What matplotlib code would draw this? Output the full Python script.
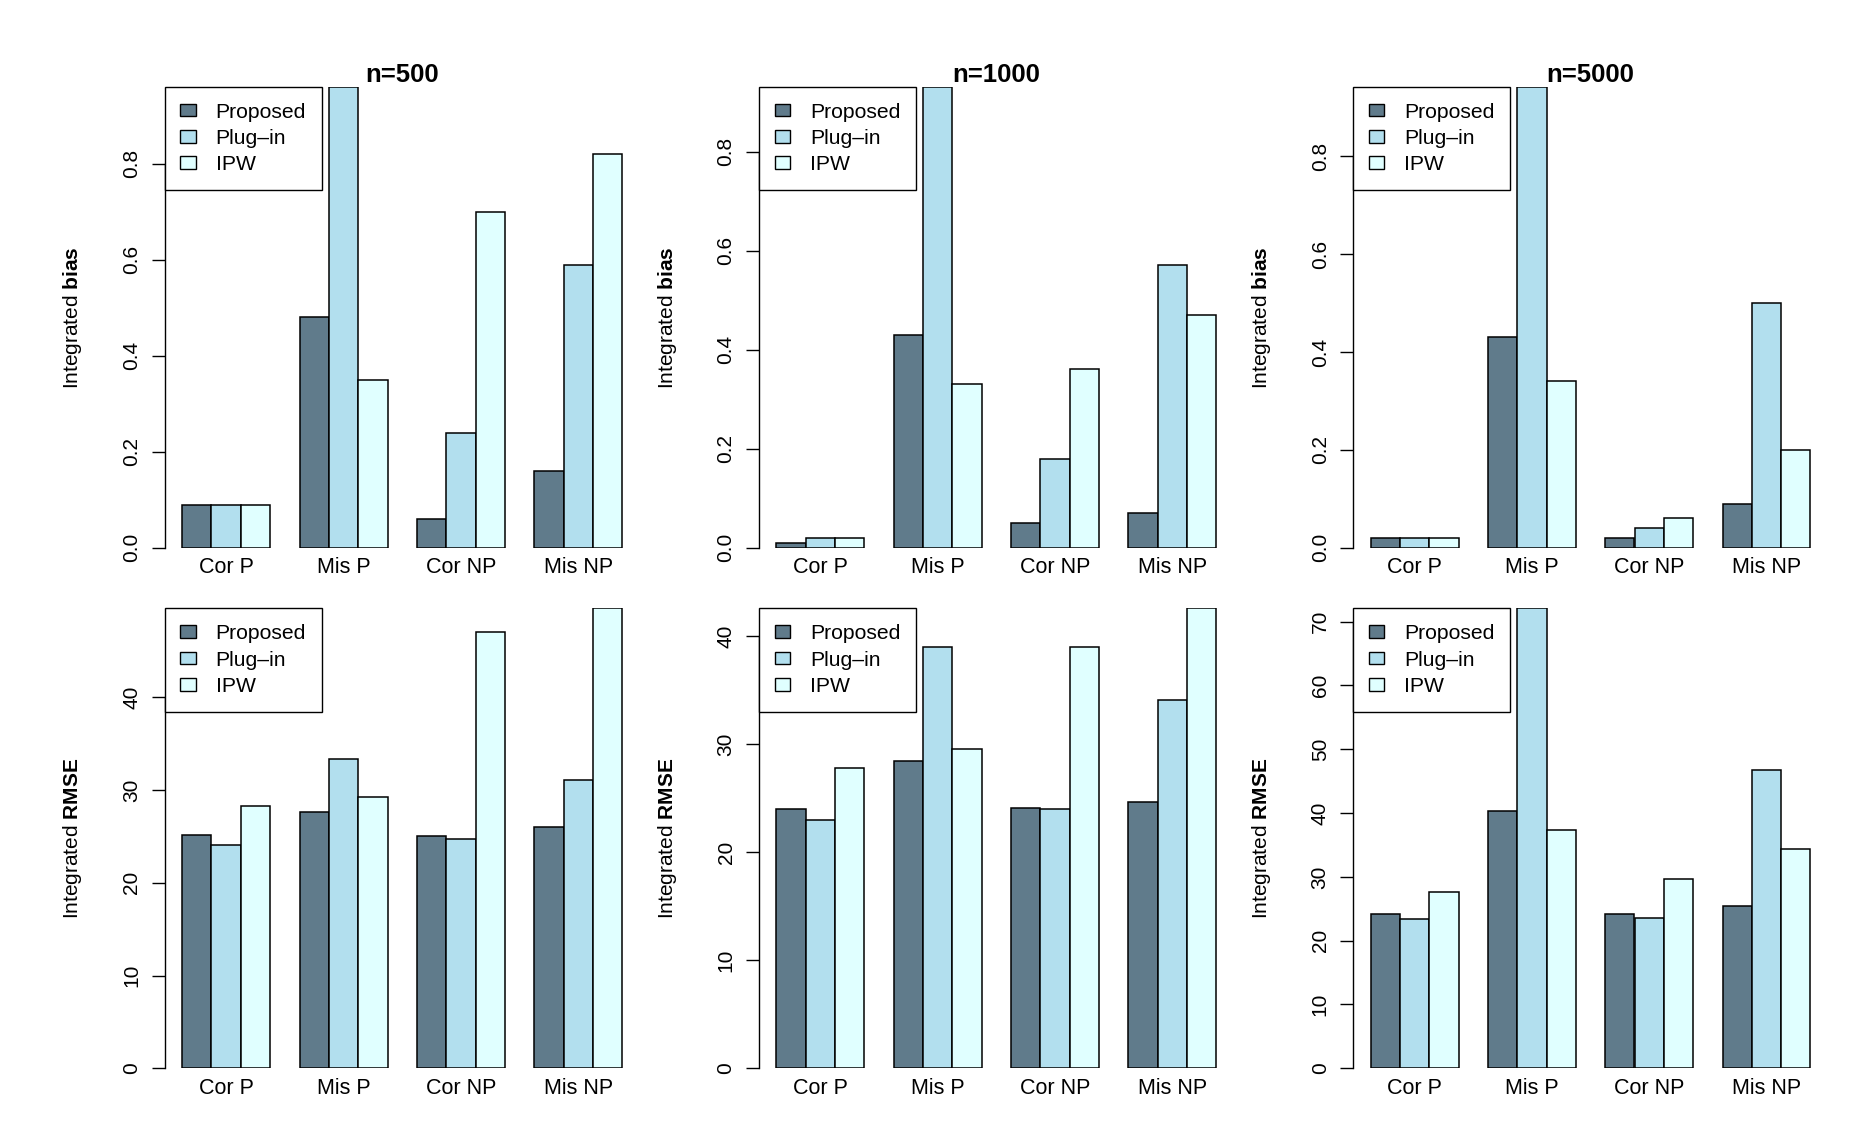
import matplotlib
matplotlib.use("Agg")
import matplotlib.pyplot as plt
from matplotlib.patches import Patch
import numpy as np

plt.rcParams['font.family'] = ['Liberation Sans', 'DejaVu Sans']
plt.rcParams['mathtext.fontset'] = 'custom'
plt.rcParams['mathtext.rm'] = 'Liberation Sans'
plt.rcParams['mathtext.bf'] = 'Liberation Sans:bold'

categories = ["Cor P", "Mis P", "Cor NP", "Mis NP"]
methods = ["Proposed", "Plug\u2013in", "IPW"]
colors = ["#607B8B", "#B2DFEE", "#E0FFFF"]
titles = ["n=500", "n=1000", "n=5000"]

# Integrated bias: rows = methods (Proposed, Plug-in, IPW), cols = categories
bias_500 = [[0.09, 0.48, 0.06, 0.16],
            [0.09, 0.961, 0.24, 0.59],
            [0.09, 0.35, 0.70, 0.82]]
bias_1000 = [[0.01, 0.43, 0.05, 0.07],
             [0.02, 0.931, 0.18, 0.57],
             [0.02, 0.33, 0.36, 0.47]]
bias_5000 = [[0.02, 0.43, 0.02, 0.09],
             [0.02, 0.942, 0.04, 0.50],
             [0.02, 0.34, 0.06, 0.20]]

# Integrated RMSE
rmse_500 = [[25.2, 27.6, 25.1, 26.0],
            [24.1, 33.4, 24.7, 31.1],
            [28.3, 29.3, 47.0, 49.6]]
rmse_1000 = [[24.0, 28.5, 24.1, 24.7],
             [23.0, 39.0, 24.0, 34.1],
             [27.8, 29.6, 39.05, 42.6]]
rmse_5000 = [[24.2, 40.3, 24.2, 25.4],
             [23.4, 72.1, 23.6, 46.8],
             [27.6, 37.4, 29.7, 34.4]]

bias_ticks = [0.0, 0.2, 0.4, 0.6, 0.8]
bias_ticklabels = ["0.0", "0.2", "0.4", "0.6", "0.8"]
rmse_ticks = {
    0: [0, 10, 20, 30, 40],
    1: [0, 10, 20, 30, 40],
    2: [0, 10, 20, 30, 40, 50, 60, 70],
}

W, H = 1870, 1136
fig = plt.figure(figsize=(W / 100, H / 100), dpi=100)

col_left = [164.5, 758.8, 1352.9]
col_width = [475.5, 475.0, 475.2]
row_top = [86.7, 608.3]
row_bottom = [547.7, 1068.3]

panels = [
    [bias_500, bias_1000, bias_5000],
    [rmse_500, rmse_1000, rmse_5000],
]
ylabels = [r"Integrated $\mathbf{bias}$", r"Integrated $\mathbf{RMSE}$"]


def draw(ax, data, ticks, ticklabels, ylabel, width_px, title=None):
    data = np.array(data)
    ncat = data.shape[1]
    nm = data.shape[0]
    for j in range(ncat):
        start = 1 + j * (nm + 1)
        for i in range(nm):
            ax.bar(start + i, data[i, j], width=1.0, align='edge',
                   color=colors[i], edgecolor='black', linewidth=1.1)
    xmin, xmax = 1, ncat * (nm + 1)
    pad = 0.04 * (xmax - xmin)
    ax.set_xlim(xmin - pad, xmax + pad)
    ax.set_ylim(0, data.max())
    ax.set_xticks([1 + j * (nm + 1) + nm / 2 for j in range(ncat)])
    ax.set_xticklabels(categories, fontsize=15.5)
    ax.tick_params(axis='x', length=0, pad=7)
    ax.set_yticks(ticks)
    ax.set_yticklabels(ticklabels, fontsize=15, rotation=90)
    for lab in ax.get_yticklabels():
        lab.set_va('center')
    ax.tick_params(axis='y', length=9.7, width=1.0, pad=7)
    for s in ['top', 'right', 'bottom']:
        ax.spines[s].set_visible(False)
    ax.spines['left'].set_bounds(ticks[0], ticks[-1])
    ax.spines['left'].set_linewidth(1.0)
    ax.set_ylabel(ylabel, fontsize=15)
    ax.yaxis.set_label_coords(-80.0 / width_px, 0.5)
    if title:
        ax.set_title(title, fontsize=18.5, fontweight='bold', pad=1)
    handles = [Patch(facecolor=c, edgecolor='black', linewidth=1.0) for c in colors]
    leg = ax.legend(handles, methods, loc='upper left', bbox_to_anchor=(0, 1),
                    borderaxespad=0, fontsize=15.2, frameon=True, fancybox=False,
                    handlelength=0.72, handleheight=0.55, handletextpad=0.95,
                    labelspacing=0.35, borderpad=0.75)
    leg.get_frame().set_edgecolor('black')
    leg.get_frame().set_linewidth(1.0)
    leg.get_frame().set_alpha(1)


for r in range(2):
    for c in range(3):
        left = col_left[c] / W
        width = col_width[c] / W
        bottom = 1 - row_bottom[r] / H
        height = (row_bottom[r] - row_top[r]) / H
        ax = fig.add_axes([left, bottom, width, height])
        if r == 0:
            draw(ax, panels[r][c], bias_ticks, bias_ticklabels, ylabels[r],
                 col_width[c], titles[c])
        else:
            t = rmse_ticks[c]
            draw(ax, panels[r][c], t, [str(v) for v in t], ylabels[r], col_width[c])

fig.savefig("out.png", dpi=100, facecolor='white')
